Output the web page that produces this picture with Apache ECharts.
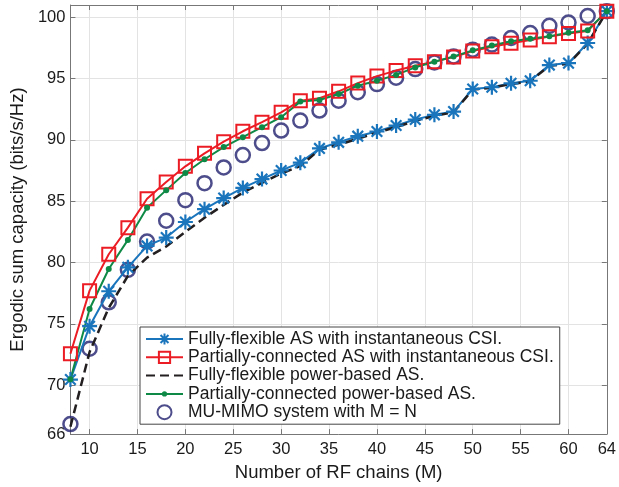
<!DOCTYPE html>
<html><head><meta charset="utf-8">
<script src="https://cdn.jsdelivr.net/npm/echarts@6/dist/echarts.min.js"></script>
<style>html,body{margin:0;padding:0;background:#fff}#c{width:619px;height:487px}</style>
</head><body><div id="c"></div>
<script>
const rfChains = [8,10,12,14,16,18,20,22,24,26,28,30,32,34,36,38,40,42,44,46,48,50,52,54,56,58,60,62,64];
const fullyFlexInst = [70.45,74.8,77.65,79.6,81.35,82.03,83.3,84.35,85.25,86.08,86.8,87.5,88.14,89.3,89.8,90.3,90.68,91.17,91.66,92.04,92.31,94.15,94.29,94.61,94.82,96.1,96.26,97.9,100.5];
const partConnInst = [72.56,77.7,80.67,82.84,85.2,86.57,87.84,88.9,89.85,90.7,91.44,92.25,93.2,93.39,93.96,94.63,95.2,95.65,96.05,96.38,96.75,97.25,97.6,97.88,98.15,98.42,98.68,98.88,100.5];
const fullyFlexPower = [66.6,72.7,76.3,78.9,80.4,81.3,82.5,83.65,84.7,85.7,86.5,87.25,87.87,89.2,89.6,90.1,90.6,91.04,91.55,91.95,92.25,94.1,94.25,94.55,94.78,96.05,96.2,97.85,100.5];
const partConnPower = [70.47,76.2,79.47,81.84,84.46,85.9,87.3,88.42,89.41,90.22,91.03,91.85,93.12,93.25,93.74,94.42,94.82,95.3,95.91,96.37,96.8,97.3,97.7,98.05,98.25,98.46,98.73,98.94,100.5];
const muMimo = [66.82,72.96,76.75,79.4,81.7,83.4,85.08,86.47,87.75,88.76,89.74,90.76,91.57,92.39,93.2,93.88,94.55,95.07,95.77,96.31,96.8,97.36,97.77,98.31,98.71,99.3,99.57,100.1,100.5];
const xTicks = [10,15,20,25,30,35,40,45,50,55,60,64];
const yTicks = [66,70,75,80,85,90,95,100];
const seriesNames = [
  'Fully-flexible AS with instantaneous CSI.',
  'Partially-connected AS with instantaneous CSI.',
  'Fully-flexible power-based AS.',
  'Partially-connected power-based AS.',
  'MU-MIMO system with M = N'
];
const pair = arr => rfChains.map((m,i)=>[m,arr[i]]);

const FONT = '"Liberation Sans", Arial, Helvetica, sans-serif';
const TXT = '#1a1a1a';
const AX = '#777777';
const BLUE = '#1a75bc', RED = '#ec1c24', BLACK = '#231f20', GREEN = '#0f8a46', NAVY = '#22206f';
const starPath = 'path://M0,-10 L0,10 M-10,0 L10,0 M-7.07,-7.07 L7.07,7.07 M-7.07,7.07 L7.07,-7.07';

const chart = echarts.init(document.getElementById('c'), null, {renderer:'canvas'});
chart.setOption({
  animation:false,
  textStyle:{fontFamily:FONT},
  grid:{left:66,right:5,top:5,bottom:50,containLabel:false},
  xAxis:[{
    type:'value',min:8,max:64,
    name:'Number of RF chains (M)',nameLocation:'middle',nameGap:22,
    nameTextStyle:{fontSize:18.5,color:TXT,fontFamily:FONT},
    axisLine:{onZero:false,lineStyle:{color:AX,width:1}},
    axisTick:{inside:true,length:5,customValues:xTicks,lineStyle:{color:AX}},
    axisLabel:{customValues:xTicks,fontSize:16.5,color:TXT,margin:7,fontFamily:FONT},
    splitLine:{show:true,lineStyle:{color:'#e3e3e3',width:1}}
  },{
    type:'value',min:8,max:64,position:'top',
    axisLine:{onZero:false,lineStyle:{color:AX,width:1}},
    axisTick:{inside:true,length:5,customValues:xTicks,lineStyle:{color:AX}},
    axisLabel:{show:false},splitLine:{show:false}
  }],
  yAxis:[{
    type:'value',min:66,max:101,
    name:'Ergodic sum capacity (bits/s/Hz)',nameLocation:'middle',nameGap:39,
    nameTextStyle:{fontSize:18.5,color:TXT,fontFamily:FONT},
    axisLine:{onZero:false,lineStyle:{color:AX,width:1}},
    axisTick:{inside:true,length:5,customValues:yTicks,lineStyle:{color:AX}},
    axisLabel:{customValues:yTicks,fontSize:16.5,color:TXT,margin:5,fontFamily:FONT},
    splitLine:{show:true,lineStyle:{color:'#e3e3e3',width:1}}
  },{
    type:'value',min:66,max:101,position:'right',
    axisLine:{onZero:false,lineStyle:{color:AX,width:1}},
    axisTick:{inside:true,length:5,customValues:yTicks,lineStyle:{color:AX}},
    axisLabel:{show:false},splitLine:{show:false}
  }],
  legend:{
    orient:'vertical',left:140,top:327,
    backgroundColor:'#ffffff',borderColor:'#444',borderWidth:1,borderRadius:0,
    padding:[3,6,3,5],itemGap:0.3,itemWidth:37,itemHeight:14,
    textStyle:{fontSize:17.5,color:TXT,fontFamily:FONT,lineHeight:16},
    data:[
      {name:seriesNames[0]},
      {name:seriesNames[1]},
      {name:seriesNames[2],itemStyle:{opacity:0}},
      {name:seriesNames[3],icon:'path://M0,6 L37,6 L37,8 L0,8 Z M18.5,4.4 A2.6,2.6 0 1,1 18.49,4.4 Z'},
      {name:seriesNames[4]}
    ]
  },
  series:[
    {name:seriesNames[0],type:'line',data:pair(fullyFlexInst),
     symbol:starPath,symbolSize:15,
     itemStyle:{color:'rgba(0,0,0,0)',borderColor:BLUE,borderWidth:2.2},
     lineStyle:{color:BLUE,width:2}},
    {name:seriesNames[1],type:'line',data:pair(partConnInst),
     symbol:'rect',symbolSize:13,
     itemStyle:{color:'rgba(0,0,0,0)',borderColor:RED,borderWidth:2},
     lineStyle:{color:RED,width:2}},
    {name:seriesNames[2],type:'line',data:pair(fullyFlexPower),
     symbol:'none',
     itemStyle:{color:BLACK},
     lineStyle:{color:BLACK,width:2.5,type:[9,5]}},
    {name:seriesNames[3],type:'line',data:pair(partConnPower),
     symbol:'circle',symbolSize:6,
     itemStyle:{color:GREEN},
     lineStyle:{color:GREEN,width:2}},
    {name:seriesNames[4],type:'scatter',data:pair(muMimo),
     symbol:'circle',symbolSize:14,
     itemStyle:{color:'rgba(0,0,0,0)',borderColor:NAVY,borderWidth:2.5}}
  ]
});
</script></body></html>
